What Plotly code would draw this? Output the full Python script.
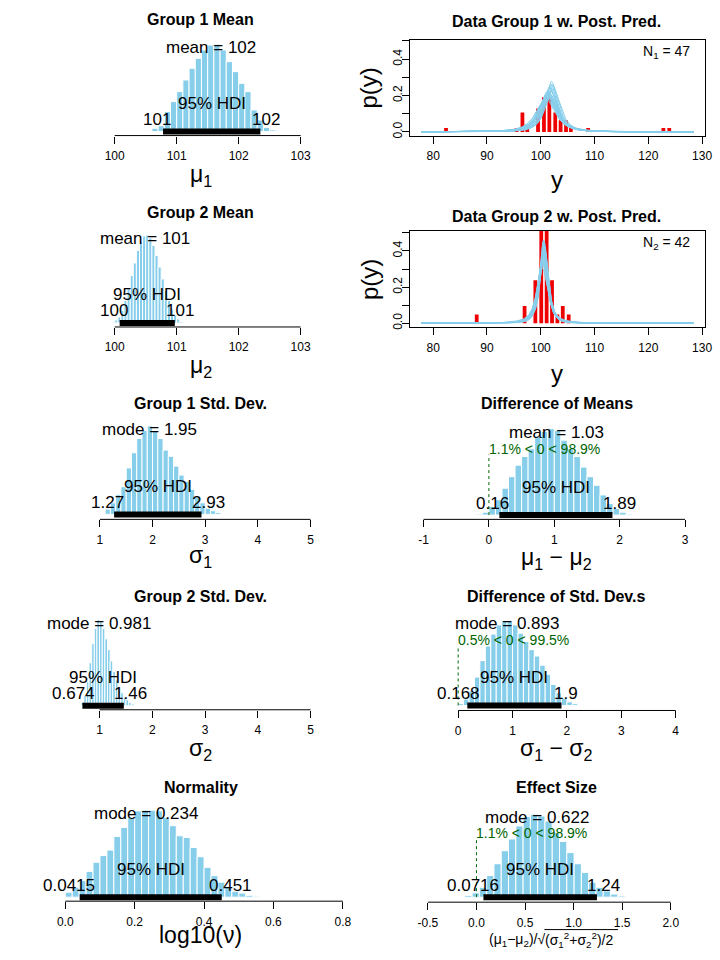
import math
import plotly.graph_objects as go

W, H = 720, 960
FONT = "Liberation Sans, Arial, Helvetica, sans-serif"
SKY = "#87CEEB"
GREEN = "#006400"

# ---------------- data ----------------
# posterior histograms: first bin left edge, bin width, densities
mu1_start, mu1_width = 100.5, 0.1
mu1_density = [0.01, 0.04, 0.07, 0.24, 0.36, 0.48, 0.62, 0.76, 0.88, 0.98, 1.04,
               1.05, 0.98, 0.84, 0.72, 0.58, 0.48, 0.26, 0.14, 0.05, 0.02, 0.01]
mu1_mean, mu1_mean_label = 101.55, "mean = 102"
mu1_hdi, mu1_hdi_labels = [100.78, 102.35], ["101", "102"]

mu2_start, mu2_width = 99.95, 0.05
mu2_density = [0.02, 0.06, 0.12, 0.25, 0.45, 0.70, 0.95, 1.20, 1.45, 1.62, 1.74, 1.76,
               1.70, 1.55, 1.35, 1.12, 0.88, 0.65, 0.45, 0.28, 0.16, 0.08, 0.03]
mu2_mean, mu2_mean_label = 100.49, "mean = 101"
mu2_hdi, mu2_hdi_labels = [100.08, 100.97], ["100", "101"]

sigma1_start, sigma1_width = 1.0, 0.1
sigma1_density = [0.01, 0.06, 0.13, 0.22, 0.31, 0.52, 0.69, 0.85, 0.94, 0.99, 0.94, 0.85,
                  0.72, 0.65, 0.54, 0.44, 0.37, 0.28, 0.19, 0.13, 0.07, 0.04, 0.02, 0.01]
sigma1_mode, sigma1_mode_label = 1.95, "mode = 1.95"
sigma1_hdi, sigma1_hdi_labels = [1.27, 2.93], ["1.27", "2.93"]

sigma2_start, sigma2_width = 0.60, 0.05
sigma2_density = [0.02, 0.09, 0.28, 0.64, 1.15, 1.66, 2.07, 2.30, 2.25, 2.07, 1.79,
                  1.50, 1.20, 0.92, 0.69, 0.48, 0.35, 0.23, 0.16, 0.09, 0.05, 0.02]
sigma2_mode, sigma2_mode_label = 0.981, "mode = 0.981"
sigma2_hdi, sigma2_hdi_labels = [0.674, 1.46], ["0.674", "1.46"]

lognu_start, lognu_width = 0.0, 0.02
lognu_density = [0.21, 0.42, 0.69, 1.08, 1.46, 1.74, 1.97, 2.54, 2.92, 3.33, 3.61, 3.64,
                 3.64, 3.61, 3.33, 2.99, 2.57, 2.50, 2.08, 1.69, 1.25, 0.90, 0.63, 0.42,
                 0.25, 0.17, 0.08, 0.04]
lognu_mode, lognu_mode_label = 0.234, "mode = 0.234"
lognu_hdi, lognu_hdi_labels = [0.0415, 0.451], ["0.0415", "0.451"]

dmu_start, dmu_width = -0.3, 0.1
dmu_density = [0.005, 0.01, 0.03, 0.09, 0.16, 0.28, 0.40, 0.52, 0.61, 0.69, 0.82, 0.87, 0.90,
               0.88, 0.78, 0.69, 0.61, 0.50, 0.40, 0.31, 0.21, 0.12, 0.07, 0.03, 0.01, 0.005]
dmu_mean, dmu_mean_label = 1.03, "mean = 1.03"
dmu_hdi, dmu_hdi_labels = [0.16, 1.89], ["0.16", "1.89"]
dmu_comp_text = "1.1% &lt; 0 &lt; 98.9%"

dsig_start, dsig_width = -0.1, 0.1
dsig_density = [0.01, 0.02, 0.07, 0.16, 0.31, 0.49, 0.65, 0.78, 0.88, 0.93, 0.92, 0.88, 0.79,
                0.70, 0.61, 0.54, 0.44, 0.34, 0.23, 0.14, 0.08, 0.04, 0.02, 0.01, 0.004]
dsig_mode, dsig_mode_label = 0.893, "mode = 0.893"
dsig_hdi, dsig_hdi_labels = [0.168, 1.9], ["0.168", "1.9"]
dsig_comp_text = "0.5% &lt; 0 &lt; 99.5%"

eff_start, eff_width = -0.12, 0.075
eff_density = [0.03, 0.07, 0.16, 0.35, 0.54, 0.75, 0.94, 1.15, 1.30, 1.34, 1.31,
               1.23, 1.04, 0.90, 0.72, 0.54, 0.40, 0.24, 0.16, 0.10, 0.05, 0.02]
eff_mode, eff_mode_label = 0.622, "mode = 0.622"
eff_hdi, eff_hdi_labels = [0.0716, 1.24], ["0.0716", "1.24"]
eff_comp_text = "1.1% &lt; 0 &lt; 98.9%"

# data histograms (red) and posterior predictive curves
g1_y = [82.4, 95.5, 96.6, 97.5, 99.5, 100.6, 101.6, 102.7, 103.7, 104.7, 105.6, 108.8, 122.8, 123.9]
g1_p = [0.021, 0.021, 0.106, 0.021, 0.128, 0.191, 0.191, 0.106, 0.064, 0.064, 0.021, 0.021, 0.021, 0.021]
g2_y = [88.1, 97.0, 99.0, 100.1, 101.1, 102.1, 103.1, 104.1, 105.2]
g2_p = [0.048, 0.095, 0.238, 0.619, 0.571, 0.238, 0.048, 0.095, 0.048]
n1, n2 = 47, 42

pp_xmin, pp_xmax = 77.8, 128.4
pp1_mu = [101.2, 101.5, 101.9, 101.0, 101.7, 102.2, 101.4, 101.6, 100.9, 101.8,
          101.3, 102.0, 101.5, 101.1, 101.7, 102.3, 101.6, 101.4, 101.9, 101.2]
pp1_sigma = [1.55, 1.80, 1.30, 1.90, 1.45, 1.35, 1.75, 1.60, 1.95, 1.50,
             1.85, 1.25, 1.70, 1.65, 1.40, 1.50, 1.90, 1.70, 1.55, 1.80]
pp2_mu = [100.5, 100.4, 100.6, 100.3, 100.5, 100.7, 100.4, 100.5, 100.6, 100.3,
          100.5, 100.4, 100.6, 100.5, 100.7, 100.4, 100.5, 100.6, 100.3, 100.5]
pp2_sigma = [0.85, 0.95, 0.78, 1.05, 0.90, 0.82, 1.00, 0.76, 0.92, 1.10,
             0.88, 0.98, 0.80, 1.02, 0.86, 0.94, 0.75, 0.90, 1.00, 0.84]
pp_nu = [1.6, 1.9, 1.5, 2.2, 1.7, 1.8, 2.5, 1.6, 2.0, 1.4,
         1.9, 1.7, 2.8, 1.5, 1.8, 2.1, 1.6, 1.9, 1.7, 2.3]

# ---------------- helpers ----------------
fig = go.Figure()
layout = dict(width=W, height=H, margin=dict(l=0, r=0, t=0, b=0),
              paper_bgcolor="white", plot_bgcolor="white", showlegend=False,
              font=dict(family=FONT, color="black"), barmode="overlay")
annotations, shapes = [], []


def xrange_from(va, pa, vb, pb, L, R):
    k = (vb - va) / (pb - pa)
    return [va + (L - pa) * k, va + (R - pa) * k]


def text_w(s, size):
    w = 0
    for c in s:
        w += 0.556 if c.isdigit() else (0.278 if c == "." else 0.5)
    return w * size


def ax(i, kind):
    return f"{kind}{'' if i == 1 else i}"


def paper_text(text, px, py, size, bold=False, angle=0, xanchor="center"):
    annotations.append(dict(text=f"<b>{text}</b>" if bold else text, x=px / W, y=1 - py / H,
                            xref="paper", yref="paper", showarrow=False, textangle=angle,
                            xanchor=xanchor, yanchor="middle",
                            font=dict(size=size, family=FONT, color="black")))


def hist_panel(i, start, width, dens, cal, xdom_px, top_px, axis_px, p0, ptop, ticks, ticktext,
               stat_val, stat_label, hdi, hdi_labels, title, title_y, xlabel, xlabel_y, xcenter,
               comp_text=None):
    xa, ya = ax(i, "x"), ax(i, "y")
    centers = [start + width * (j + 0.5) for j in range(len(dens))]
    fig.add_trace(go.Bar(x=centers, y=dens, width=width, xaxis=xa, yaxis=ya,
                         marker=dict(color=SKY, line=dict(color="white", width=1)),
                         hoverinfo="skip"))
    fig.add_trace(go.Scatter(x=hdi, y=[0, 0], mode="lines", xaxis=xa, yaxis=ya,
                             line=dict(color="black", width=6), hoverinfo="skip"))
    hmax = max(dens)
    s = (p0 - ptop) / hmax
    layout["xaxis" + ("" if i == 1 else str(i))] = dict(
        domain=[xdom_px[0] / W, xdom_px[1] / W],
        range=xrange_from(cal[0], cal[1], cal[2], cal[3], xdom_px[0], xdom_px[1]),
        anchor=ya, tickvals=ticks, ticktext=ticktext, ticks="outside", ticklen=7,
        tickcolor="black", tickwidth=1, showline=False, showgrid=False, zeroline=False,
        tickfont=dict(size=12, family=FONT, color="black"), ticklabelstandoff=2)
    layout["yaxis" + ("" if i == 1 else str(i))] = dict(
        domain=[1 - axis_px / H, 1 - top_px / H],
        range=[-(axis_px - p0) / s, (p0 - top_px) / s],
        anchor=xa, visible=False, showgrid=False, zeroline=False)
    shapes.append(dict(type="line", xref=xa, yref=ya + " domain", x0=ticks[0], x1=ticks[-1],
                       y0=0, y1=0, line=dict(color="black", width=1)))
    f17 = dict(size=17, family=FONT, color="black")
    annotations.append(dict(text=stat_label, x=stat_val, y=0.9 * hmax, xref=xa, yref=ya,
                            showarrow=False, yanchor="middle", yshift=5, font=f17))
    annotations.append(dict(text="95% HDI", x=(hdi[0] + hdi[1]) / 2, y=0, xref=xa, yref=ya,
                            showarrow=False, yanchor="middle", yshift=28, font=f17))
    annotations.append(dict(text=hdi_labels[0], x=hdi[0], y=0, xref=xa, yref=ya,
                            showarrow=False, yanchor="middle", yshift=12,
                            xshift=-0.2 * text_w(hdi_labels[0], 17), font=f17))
    annotations.append(dict(text=hdi_labels[1], x=hdi[1], y=0, xref=xa, yref=ya,
                            showarrow=False, yanchor="middle", yshift=12,
                            xshift=0.2 * text_w(hdi_labels[1], 17), font=f17))
    if comp_text is not None:
        shapes.append(dict(type="line", xref=xa, yref=ya, x0=0, x1=0, y0=0, y1=0.7 * hmax,
                           line=dict(color=GREEN, width=1, dash="dot")))
        annotations.append(dict(text=comp_text, x=0, y=0.7 * hmax, xref=xa, yref=ya,
                                showarrow=False, xanchor="left", yanchor="middle", yshift=6,
                                xshift=-2, font=dict(size=14, family=FONT, color=GREEN)))
    paper_text(title, xcenter, title_y, 16, bold=True)
    if xlabel is not None:
        paper_text(xlabel, xcenter, xlabel_y, 23)


def t_density(x, mu, sigma, nu):
    c = math.exp(math.lgamma((nu + 1) / 2) - math.lgamma(nu / 2)) / (math.sqrt(nu * math.pi) * sigma)
    return c * (1 + ((x - mu) / sigma) ** 2 / nu) ** (-(nu + 1) / 2)


def pred_panel(i, mus, sigmas, nus, ys, ps, top_px, bot_px, y0_px, y4_px, title, title_y,
               nlabel, n_y, xlabel_y):
    xa, ya = ax(i, "x"), ax(i, "y")
    grid = [pp_xmin + (pp_xmax - pp_xmin) * k / 500 for k in range(501)]
    for mu, sg, nu in zip(mus, sigmas, nus):
        fig.add_trace(go.Scatter(x=grid, y=[t_density(g, mu, sg, nu) for g in grid],
                                 mode="lines", xaxis=xa, yaxis=ya,
                                 line=dict(color=SKY, width=1), hoverinfo="skip"))
    fig.add_trace(go.Bar(x=ys, y=ps, width=0.7, xaxis=xa, yaxis=ya,
                         marker=dict(color="#EE0000", line=dict(width=0)), hoverinfo="skip"))
    k = 0.4 / (y0_px - y4_px)
    L, R = 415, 712.7
    layout["xaxis" + str(i)] = dict(
        domain=[L / W, R / W], range=xrange_from(80, 438, 130, 710, L, R), anchor=ya,
        tickvals=[80, 90, 100, 110, 120, 130], ticks="outside", ticklen=7, tickcolor="black",
        showline=True, mirror=True, linecolor="black", linewidth=1, showgrid=False,
        zeroline=False, tickfont=dict(size=12, family=FONT, color="black"), ticklabelstandoff=2)
    layout["yaxis" + str(i)] = dict(
        domain=[1 - bot_px / H, 1 - top_px / H],
        range=[(y0_px - bot_px) * k, (y0_px - top_px) * k], anchor=xa,
        tickvals=[0, 0.1, 0.2, 0.3, 0.4, 0.5], ticktext=["0.0", "", "0.2", "", "0.4", ""],
        tickangle=-90, ticks="outside", ticklen=7, tickcolor="black", showline=True,
        mirror=True, linecolor="black", linewidth=1, showgrid=False, zeroline=False,
        tickfont=dict(size=12, family=FONT, color="black"), ticklabelstandoff=-4)
    paper_text(title, 563, title_y, 16, bold=True)
    paper_text(nlabel, 674, n_y, 14)
    paper_text("y", 563, xlabel_y, 24)
    paper_text("p(y)", 373, (top_px + bot_px) / 2, 24, angle=-90)


LX = (40, 350)
RX = (420, 712)

hist_panel(1, mu1_start, mu1_width, mu1_density, (100, 116, 103, 304), LX, 30, 136, 132, 44.3,
           [100, 101, 102, 103], ["100", "101", "102", "103"], mu1_mean, mu1_mean_label,
           mu1_hdi, mu1_hdi_labels, "Group 1 Mean", 20, "μ<sub>1</sub>", 176, 203)
pred_panel(2, pp1_mu, pp1_sigma, pp_nu, g1_y, g1_p, 40, 136, 132.3, 59.3,
           "Data Group 1 w. Post. Pred.", 22, f"N<sub>1</sub> = {n1}", 52, 180)
hist_panel(3, mu2_start, mu2_width, mu2_density, (100, 116, 103, 304), LX, 222, 328, 324, 235.7,
           [100, 101, 102, 103], ["100", "101", "102", "103"], mu2_mean, mu2_mean_label,
           mu2_hdi, mu2_hdi_labels, "Group 2 Mean", 213, "μ<sub>2</sub>", 368, 203)
pred_panel(4, pp2_mu, pp2_sigma, pp_nu, g2_y, g2_p, 231.7, 328.3, 324.3, 251.7,
           "Data Group 2 w. Post. Pred.", 216.7, f"N<sub>2</sub> = {n2}", 243.3, 375)
hist_panel(5, sigma1_start, sigma1_width, sigma1_density, (1, 101, 5, 314), LX, 412, 521, 516,
           427.3, [1, 2, 3, 4, 5], ["1", "2", "3", "4", "5"], sigma1_mode, sigma1_mode_label,
           sigma1_hdi, sigma1_hdi_labels, "Group 1 Std. Dev.", 405, "σ<sub>1</sub>", 558, 203)
hist_panel(6, dmu_start, dmu_width, dmu_density, (-1, 428.3, 3, 692.7), RX, 412, 521, 516.7, 430,
           [-1, 0, 1, 2, 3], ["-1", "0", "1", "2", "3"], dmu_mean, dmu_mean_label,
           dmu_hdi, dmu_hdi_labels, "Difference of Means", 405,
           "μ<sub>1</sub> − μ<sub>2</sub>", 560, 563, comp_text=dmu_comp_text)
hist_panel(7, sigma2_start, sigma2_width, sigma2_density, (1, 100.7, 5, 314), LX, 605, 712, 708,
           621.7, [1, 2, 3, 4, 5], ["1", "2", "3", "4", "5"], sigma2_mode, sigma2_mode_label,
           sigma2_hdi, sigma2_hdi_labels, "Group 2 Std. Dev.", 598, "σ<sub>2</sub>", 752, 203)
hist_panel(8, dsig_start, dsig_width, dsig_density, (0, 463.3, 4, 683.3), RX, 605, 712.7, 707.7,
           622.3, [0, 1, 2, 3, 4], ["0", "1", "2", "3", "4"], dsig_mode, dsig_mode_label,
           dsig_hdi, dsig_hdi_labels, "Difference of Std. Dev.s", 598,
           "σ<sub>1</sub> − σ<sub>2</sub>", 752, 563, comp_text=dsig_comp_text)
hist_panel(9, lognu_start, lognu_width, lognu_density, (0, 66, 0.8, 346.7), LX, 797, 904, 900,
           812.7, [0, 0.2, 0.4, 0.6, 0.8], ["0.0", "0.2", "0.4", "0.6", "0.8"], lognu_mode,
           lognu_mode_label, lognu_hdi, lognu_hdi_labels, "Normality", 790, "log10(ν)", 938, 203)
hist_panel(10, eff_start, eff_width, eff_density, (-0.5, 432.7, 2.0, 678.3), RX, 797, 905, 900,
           816.7, [-0.5, 0, 0.5, 1.0, 1.5, 2.0], ["-0.5", "0.0", "0.5", "1.0", "1.5", "2.0"],
           eff_mode, eff_mode_label, eff_hdi, eff_hdi_labels, "Effect Size", 790,
           None, 943, 563, comp_text=eff_comp_text)

# effect-size axis label: numerator + radical, radicand with overbar
paper_text("(μ<sub>1</sub>−μ<sub>2</sub>)/√", 553, 943, 14, xanchor="right")
paper_text("(σ<sub>1</sub><sup>2</sup>+σ<sub>2</sub><sup>2</sup>)/2", 549, 943, 14, xanchor="left")
shapes.append(dict(type="line", xref="paper", yref="paper", x0=550.5 / W, x1=625 / W,
                   y0=1 - 932.5 / H, y1=1 - 932.5 / H, line=dict(color="black", width=1)))

layout["annotations"] = annotations
layout["shapes"] = shapes
fig.update_layout(**layout)
fig.write_html("out.html", config={"displayModeBar": False},
               post_script="document.body.style.margin='0px';")
